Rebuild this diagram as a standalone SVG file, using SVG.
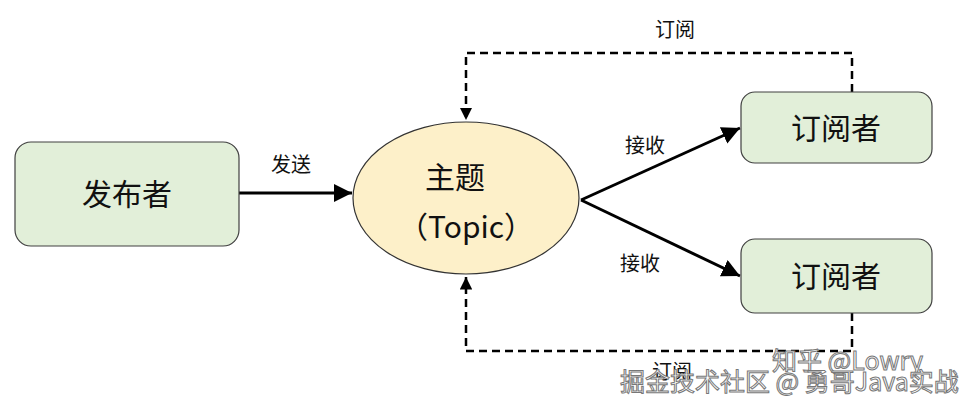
<svg xmlns="http://www.w3.org/2000/svg" width="978" height="409" viewBox="0 0 978 409">
<style>
.box{fill:#e2efd9;stroke:#404040;stroke-width:1.2}
.t{font-family:"Noto Sans CJK SC","Liberation Sans",sans-serif;fill:#111}
.big{font-size:30px}
.lbl{font-size:20px}
.solid{stroke:#000;stroke-width:3;fill:none}
.dash{stroke:#000;stroke-width:2.5;fill:none;stroke-dasharray:8,5}
.wm{font-family:"Noto Sans CJK SC","Liberation Sans",sans-serif;font-size:25px;fill:#fff;stroke:#777;stroke-width:1}
</style>
<defs>
<marker id="ah" viewBox="0 0 10 10" refX="10" refY="5" markerWidth="6" markerHeight="6" orient="auto" markerUnits="strokeWidth"><path d="M0,0L10,5L0,10z" fill="#000"/></marker>
<marker id="ahs" viewBox="0 0 10 10" refX="10" refY="5" markerWidth="5" markerHeight="5" orient="auto" markerUnits="strokeWidth"><path d="M0,0L10,5L0,10z" fill="#000"/></marker>
</defs>
<rect width="978" height="409" fill="#fff"/>
<g id="connectors">
<line class="solid" x1="239" y1="193" x2="352" y2="193" marker-end="url(#ah)"/>
<line class="solid" x1="581" y1="200" x2="740" y2="128" marker-end="url(#ah)"/>
<line class="solid" x1="581" y1="200" x2="740" y2="276" marker-end="url(#ah)"/>
<polyline class="dash" points="852,92 852,53 466,53 466,120" marker-end="url(#ahs)"/>
<polyline class="dash" points="852,313 852,351 466,351 466,277" marker-end="url(#ahs)"/>
<text class="t lbl" x="291" y="172" text-anchor="middle">发送</text>
<text class="t lbl" x="645" y="153" text-anchor="middle">接收</text>
<text class="t lbl" x="640" y="271" text-anchor="middle">接收</text>
<text class="t lbl" x="675" y="37" text-anchor="middle">订阅</text>
<text class="t lbl" x="672" y="379" text-anchor="middle">订阅</text>
</g>
<g id="publisher">
<rect class="box" x="15" y="142" width="224" height="104" rx="16"/>
<text class="t big" x="127" y="205" text-anchor="middle">发布者</text>
</g>
<g id="topic">
<ellipse cx="466" cy="198" rx="113" ry="76" fill="#fdf0c9" stroke="#333" stroke-width="1.2"/>
<text class="t big" x="455" y="188" text-anchor="middle">主题</text>
<text class="t big" x="466" y="238" text-anchor="middle">（Topic）</text>
</g>
<g id="sub1">
<rect class="box" x="741" y="92" width="191" height="71" rx="14"/>
<text class="t big" x="836" y="139" text-anchor="middle">订阅者</text>
</g>
<g id="sub2">
<rect class="box" x="741" y="239" width="191" height="74" rx="14"/>
<text class="t big" x="836" y="287" text-anchor="middle">订阅者</text>
</g>
<text class="wm" x="772" y="370" font-size="27">知乎 @Lowry</text>
<text class="wm" x="620" y="391">掘金技术社区 @ 勇哥Java实战</text>
</svg>
